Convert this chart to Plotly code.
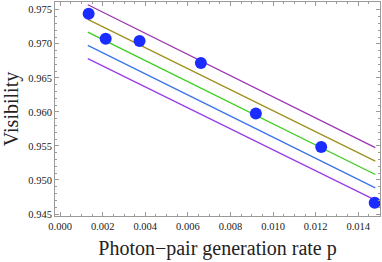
import plotly.graph_objects as go

# measured points
p_rate = [0.00134, 0.00214, 0.00373, 0.00661, 0.00919, 0.01226, 0.01477]
visibility = [0.97441, 0.97075, 0.97040, 0.96717, 0.95975, 0.95485, 0.94664]

# theory lines (start/end values)
line_x = [0.0013, 0.0148]
line_top = [0.97573, 0.95476]
line_olive = [0.97358, 0.95276]
line_green = [0.97172, 0.95080]
line_blue = [0.96977, 0.94884]
line_low = [0.96782, 0.94704]

line_sets = [
    (line_top, "#9b35b0"),
    (line_olive, "#a0901e"),
    (line_green, "#3ccc1e"),
    (line_blue, "#3c74e6"),
    (line_low, "#9a3ce6"),
]

fig = go.Figure()
for ys, col in line_sets:
    fig.add_trace(go.Scatter(x=line_x, y=ys, mode="lines",
                             line=dict(color=col, width=1.3), showlegend=False))
fig.add_trace(go.Scatter(x=p_rate, y=visibility, mode="markers",
                         marker=dict(color="#1a2cff", size=12, line=dict(width=0)),
                         showlegend=False, cliponaxis=True))

frame = "#9a9a9a"
axis_common = dict(showline=True, linecolor=frame, linewidth=1, mirror="allticks",
                   ticks="inside", ticklen=4, tickcolor=frame, tickwidth=1,
                   showgrid=False, zeroline=False, automargin=False,
                   tickfont=dict(family="Liberation Serif", size=10.5, color="#222"))

fig.update_layout(
    width=382, height=262,
    margin=dict(l=55, r=2, t=2, b=46),
    plot_bgcolor="white", paper_bgcolor="white",
    xaxis=dict(range=[-0.00024, 0.01502], dtick=0.002, tick0=0, tickformat=".3f",
               minor=dict(dtick=0.0005, ticks="inside", ticklen=2, tickcolor=frame),
               title=dict(text="Photon\u2212pair generation rate p", standoff=10,
                          font=dict(family="Liberation Serif", size=20, color="#222")),
               **axis_common),
    yaxis=dict(range=[0.94471, 0.97614], dtick=0.005, tick0=0.945, tickformat=".3f",
               minor=dict(dtick=0.001, ticks="inside", ticklen=2, tickcolor=frame),
               title=dict(text="Visibility", standoff=6,
                          font=dict(family="Liberation Serif", size=20, color="#222")),
               **axis_common),
)

fig.write_html("out.html", config={"displayModeBar": False},
               post_script="document.body.style.margin='0';")
